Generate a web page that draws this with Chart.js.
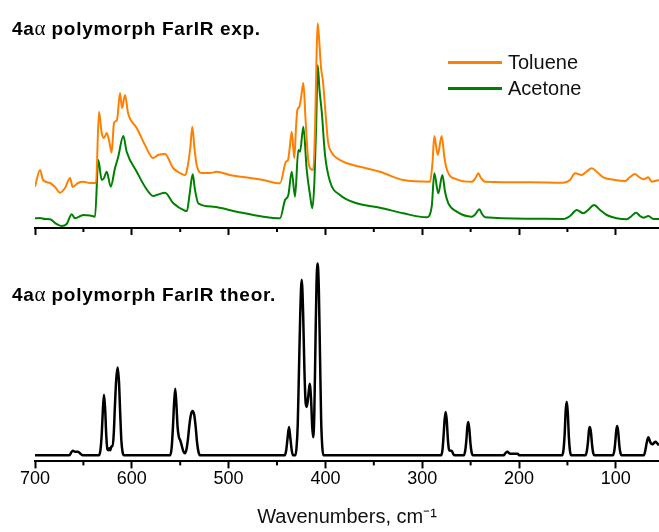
<!DOCTYPE html>
<html>
<head>
<meta charset="utf-8">
<script src="https://cdn.jsdelivr.net/npm/chart.js@4.4.1/dist/chart.umd.min.js"></script>
<style>
  body { margin: 0; background: #fff; width: 659px; height: 532px; overflow: hidden; position: relative; font-family: "Liberation Sans", Arial, sans-serif; }
  canvas { position: absolute; left: 0; }
  #topChart { top: 0; }
  #bottomChart { top: 240px; }
  .panelTitle { position: absolute; left: 12px; font-weight: bold; font-size: 19px; letter-spacing: 0.7px; color: #000; white-space: nowrap; line-height: 1; }
  .panelTitle .greek { font-family: "Liberation Serif", serif; font-weight: normal; font-size: 21px; letter-spacing: 0; }
  .legend { position: absolute; left: 448px; font-size: 20px; color: #111; }
  .legend div { position: relative; height: 26px; line-height: 26px; }
  .legend span.swatch { position: absolute; left: 0; top: 12px; width: 54px; height: 2.5px; }
  .legend span.label { position: absolute; left: 60px; top: 0; white-space: nowrap; }
</style>
</head>
<body>
<canvas id="topChart" width="659" height="240"></canvas>
<canvas id="bottomChart" width="659" height="292"></canvas>
<div class="panelTitle" style="top:18px">4a<span class="greek">α</span> polymorph FarIR exp.</div>
<div class="panelTitle" style="top:284px">4a<span class="greek">α</span> polymorph FarIR theor.</div>
<div class="legend" style="top:49px">
  <div><span class="swatch" style="background:#ff8000"></span><span class="label">Toluene</span></div>
  <div><span class="swatch" style="background:#008000"></span><span class="label">Acetone</span></div>
</div>
<script>
// series names
const seriesNames = ["Toluene", "Acetone", "Theory"];

// wavenumber axis ticks (cm-1)
const majorTicks = [700, 600, 500, 400, 300, 200, 100];
const minorTicks = [650, 550, 450, 350, 250, 150];

// experimental FarIR, Toluene (arb. units)
const tolueneX = [700, 694.8, 691.7, 684.5, 679.3, 674.2, 669.0, 663.8, 661.1, 655.6, 650.4, 643.2, 637.0, 633.9, 631.1, 628.7, 625.9, 623.6, 620.8, 618.4, 615.3, 612.2, 610.1, 607.0, 603.9, 594.9, 586.4, 578.1, 572.9, 565.7, 557.4, 550.2, 545.0, 543.0, 539.6, 537.5, 535.3, 533.0, 527.8, 519.2, 512.3, 498.6, 477.9, 464.5, 446.9, 440.7, 438.6, 436.9, 434.8, 432.1, 430.4, 429.0, 426.9, 425.2, 422.8, 420.6, 418.0, 416.0, 412.5, 410.7, 409.2, 408.0, 406.6, 404.5, 402.5, 399.9, 397.3, 393.2, 388.3, 379.8, 371.5, 359.1, 343.6, 319.8, 291.9, 289.4, 287.5, 284.0, 279.9, 277.0, 274.4, 264.4, 248.9, 244.9, 242.1, 239.3, 235.1, 188.6, 154.2, 147.3, 142.1, 135.2, 130.7, 124.8, 119.4, 112.9, 100.8, 90.5, 85.3, 80.2, 76.0, 71.5, 66.4, 62.9, 59.5, 55.4];
const tolueneY = [41.3, 58, 48, 45, 41, 35.3, 40, 50, 41, 45, 46.3, 45, 45, 116.3, 95, 90, 95, 88, 75.3, 105, 108, 135, 120, 133, 115, 100, 83, 70, 73, 74, 60, 55, 53, 58, 80, 101.3, 80, 63, 55, 55, 56.3, 53, 50, 48, 44.7, 66.3, 68, 80, 96.3, 70, 100, 118, 121.3, 130, 145, 110, 70, 60, 58, 100, 170, 204.7, 190, 160, 146.3, 115, 86.3, 75, 70, 65.5, 63, 60, 56.3, 48, 46.3, 65, 92, 73, 92, 70, 58, 48.7, 46.3, 50, 54.7, 50, 46.3, 45.7, 45.3, 48, 54.7, 53, 56, 59.7, 56, 50.7, 48, 47, 51, 54, 51, 48.7, 50.7, 46.3, 47, 48];

// experimental FarIR, Acetone (arb. units)
const acetoneX = [700, 694.8, 689.7, 684.5, 677.6, 672.4, 667.3, 662.1, 658.7, 650.1, 643.2, 638.0, 634.6, 631.1, 628.7, 625.9, 621.8, 617.4, 614.0, 608.8, 605.3, 594.9, 586.4, 577.8, 572.9, 565.7, 557.1, 545.0, 543.0, 540.4, 537.1, 534.7, 531.3, 515.8, 491.6, 464.1, 446.9, 441.7, 438.3, 434.8, 431.4, 428.0, 426.2, 422.8, 419.3, 415.9, 413.5, 411.3, 409.4, 408.0, 406.1, 403.8, 400.4, 395.2, 384.9, 367.7, 343.6, 319.5, 295.4, 290.2, 287.5, 283.4, 279.2, 276.4, 273.0, 264.4, 248.9, 244.9, 241.0, 238.2, 235.1, 188.6, 154.2, 147.3, 140.4, 133.6, 128.7, 122.5, 116.3, 109.4, 99.1, 88.7, 84.3, 79.1, 75.0, 71.5, 66.4, 61.3, 55.4];
const acetoneY = [9.7, 10, 9, 8.7, 4, 2, 4, 13.7, 9.7, 13, 12.5, 11.3, 68, 48, 50, 56.3, 41.3, 59.7, 71.3, 92, 76.3, 56.3, 41.3, 32, 33.5, 35.3, 24.7, 17.3, 17, 33, 53.7, 38, 24.7, 21.3, 16.3, 11.3, 9.7, 28, 33, 56.3, 31.3, 78, 76.3, 101.3, 58, 33, 19.7, 48, 108, 163, 138, 116.3, 73, 46.3, 33, 24.7, 20.3, 14.7, 10.7, 21.3, 54.7, 34.7, 53, 36, 24.7, 16.3, 11.3, 14, 18.7, 14, 10.7, 9.3, 9, 12, 18, 14.7, 18, 23, 18, 13, 9.7, 8.7, 11.5, 15.3, 12, 10.3, 12, 9, 9];

// theoretical FarIR (arb. units)
const theorX = [700, 664.5, 662.5, 661, 658.5, 655.5, 653, 650.5,
  634, 632.3, 631, 629.9, 628.7, 627.5, 626.4, 625.2, 624, 623.2, 622.2, 621, 619.8, 618.6, 617.4, 616.1, 614.6, 613.2, 612, 610.8, 609.5, 608,
  560.5, 558.8, 557.5, 556.3, 555.1, 553.9, 552.7, 551.3, 550, 548.5, 546.8, 545.2, 543.5, 542, 540.5, 539, 537.3, 535.5, 534, 532.5, 531, 529,
  442, 440.5, 439.2, 437.6, 436.1, 434.8, 433.5,
  431, 429.8, 428.6, 427.4, 426, 424.5, 423, 421.7, 420.4, 419.2, 417.8, 416.2, 414.8, 413.6, 412.6, 411.5, 410.3, 409.2, 408, 406.8, 405.6, 404.4, 403.2, 402,
  280.5, 279, 277.9, 276.8, 275.7, 274.6, 273.5, 272.4, 271, 269.5, 268, 266.5,
  257, 255.5, 254.4, 253.4, 252.4, 251.3, 250.2, 249, 247.5,
  216, 213.8, 212, 210, 208, 204, 201.5, 199.5,
  155.5, 154, 152.8, 151.8, 150.7, 149.6, 148.5, 147.3, 146,
  131.3, 129.8, 128.7, 127.7, 126.7, 125.6, 124.5, 123.3, 122,
  103, 101.5, 100.5, 99.5, 98.5, 97.4, 96.3, 95.1, 94,
  71, 69.5, 68.2, 66.4, 64.8, 63.5, 62, 60.5, 59, 57.4, 55.4];
const theorY = [0, 0, 3, 4.5, 3.5, 3.5, 1.5, 0,
  0, 6, 22, 45, 60, 45, 20, 6, 5, 7, 5, 9, 9, 22, 50, 75, 87, 72, 42, 15, 3, 0,
  0, 8, 28, 52, 66, 50, 28, 18, 15, 10, 4, 2, 6, 16, 30, 40, 44, 40, 28, 12, 3, 0,
  0, 5, 16, 28, 16, 5, 0,
  0, 8, 30, 80, 140, 174, 140, 85, 52, 48, 58, 71, 55, 28, 18, 40, 110, 170, 190, 165, 100, 35, 8, 0,
  0, 6, 20, 36, 43, 34, 16, 6, 4.5, 4.3, 1.5, 0,
  0, 5, 15, 28, 33, 26, 12, 3, 0,
  0, 2.5, 3.5, 2, 1.5, 1.5, 1.5, 0,
  0, 6, 22, 44, 53, 42, 18, 4, 0,
  0, 5, 14, 25, 28, 22, 10, 2, 0,
  0, 5, 14, 25, 29, 22, 9, 2, 0,
  0, 5, 12, 18, 14, 11.5, 11, 12.5, 13.5, 12, 10];

const toPoints = (xs, ys) => xs.map((x, i) => ({ x, y: ys[i] }));

// short minor ticks between the labelled ones
const minorTickPlugin = {
  id: "minorTicks",
  afterDraw(chart) {
    const scale = chart.scales.x;
    const c = chart.ctx;
    c.save();
    c.strokeStyle = "#000";
    c.lineWidth = 2;
    minorTicks.forEach((v) => {
      const px = scale.getPixelForValue(v);
      c.beginPath();
      c.moveTo(px, scale.top);
      c.lineTo(px, scale.top + 4);
      c.stroke();
    });
    c.restore();
  },
};

const xAxis = (showLabels) => ({
  type: "linear",
  reverse: true,
  min: 55.4,
  max: 700,
  afterBuildTicks: (axis) => {
    axis.ticks = majorTicks.map((v) => ({ value: v }));
  },
  border: { display: true, color: "#000", width: 2 },
  grid: { drawOnChartArea: false, drawTicks: true, tickLength: 7, tickColor: "#000", tickWidth: 2 },
  ticks: {
    display: showLabels,
    autoSkip: false,
    maxRotation: 0,
    padding: 0,
    color: "#000",
    font: { family: "'Liberation Sans', Arial, sans-serif", size: 18 },
  },
  title: {
    display: showLabels,
    text: "Wavenumbers, cm⁻¹",
    color: "#111",
    font: { family: "'Liberation Sans', Arial, sans-serif", size: 20 },
    padding: { top: 15, bottom: 0 },
  },
});

const lineSet = (label, xs, ys, color, width) => ({
  label,
  data: toPoints(xs, ys),
  borderColor: color,
  backgroundColor: color,
  borderWidth: width,
  pointRadius: 0,
  cubicInterpolationMode: "monotone",
  fill: false,
});

new Chart(document.getElementById("topChart").getContext("2d"), {
  type: "line",
  data: {
    datasets: [
      lineSet(seriesNames[0], tolueneX, tolueneY, "#ff8000", 2),
      lineSet(seriesNames[1], acetoneX, acetoneY, "#008000", 2),
    ],
  },
  options: {
    responsive: false,
    animation: false,
    layout: { padding: { left: 35, right: 0, top: 13, bottom: 5 } },
    plugins: { legend: { display: false }, tooltip: { enabled: false } },
    scales: {
      x: xAxis(false),
      y: { display: false, min: 0, max: 215 },
    },
  },
  plugins: [minorTickPlugin],
});

new Chart(document.getElementById("bottomChart").getContext("2d"), {
  type: "line",
  data: {
    datasets: [lineSet(seriesNames[2], theorX, theorY, "#000", 2.5)],
  },
  options: {
    responsive: false,
    animation: false,
    layout: { padding: { left: 35, right: 0, top: 13.5, bottom: 3 } },
    plugins: { legend: { display: false }, tooltip: { enabled: false } },
    scales: {
      x: xAxis(true),
      y: { display: false, min: -6, max: 200 },
    },
  },
  plugins: [minorTickPlugin],
});
</script>
</body>
</html>
